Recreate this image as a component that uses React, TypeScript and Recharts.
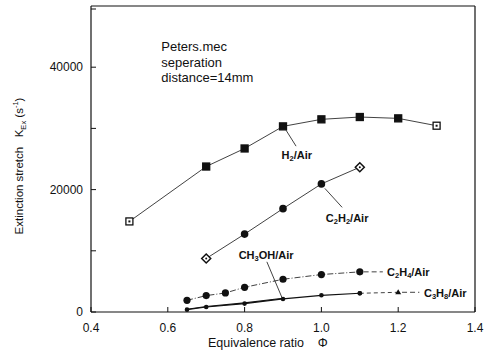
import React from "react";
import { LineChart, Line, XAxis, YAxis, ReferenceLine, ReferenceDot } from "recharts";

const xTicks = [0.4, 0.6, 0.8, 1.0, 1.2, 1.4];
const yTicks = [0, 10000, 20000, 30000, 40000, 50000];
const yLabeled = [0, 20000, 40000];

const h2Phi = [0.5, 0.7, 0.8, 0.9, 1.0, 1.1, 1.2, 1.3];
const h2K = [14800, 23770, 26720, 30330, 31480, 31860, 31640, 30440];
const c2h2Phi = [0.7, 0.8, 0.9, 1.0, 1.1];
const c2h2K = [8740, 12730, 16890, 20930, 23660];
const c2h4Phi = [0.65, 0.7, 0.75, 0.8, 0.9, 1.0, 1.1];
const c2h4K = [1910, 2680, 3110, 4040, 5350, 6120, 6560];
const c3h8Phi = [0.65, 0.7, 0.8, 0.9, 1.0, 1.1, 1.2];
const c3h8K = [380, 820, 1370, 2130, 2730, 3060, 3220];
const ch3ohPhi = [0.65, 0.7, 0.8, 0.9];
const ch3ohK = [450, 900, 1500, 2250];

const zip = (xs: number[], ys: number[]) => xs.map((x, i) => ({ x, y: ys[i] }));
const h2 = zip(h2Phi, h2K);
const c2h2 = zip(c2h2Phi, c2h2K);
const c2h4 = zip(c2h4Phi, c2h4K);
const c3h8 = zip(c3h8Phi, c3h8K);
const ch3oh = zip(ch3ohPhi, ch3ohK);

const FONT = "'Liberation Sans', Arial, Helvetica, sans-serif";
const INK = "#111";

const squareDot = (n: number) => (p: any) => {
  const { cx, cy, index } = p;
  const hollow = index === 0 || index === n - 1;
  return (
    <g key={`sq-${index}`}>
      <rect x={cx - 3.5} y={cy - 3.5} width={7} height={7} fill={hollow ? "#fff" : INK} stroke={INK} strokeWidth={1.3} />
      {hollow && <rect x={cx - 1} y={cy - 1} width={2} height={2} fill={INK} />}
    </g>
  );
};

const diamondDot = (n: number) => (p: any) => {
  const { cx, cy, index } = p;
  const hollow = index === 0 || index === n - 1;
  if (hollow) {
    return (
      <g key={`dm-${index}`}>
        <polygon points={`${cx},${cy - 4.5} ${cx + 4.5},${cy} ${cx},${cy + 4.5} ${cx - 4.5},${cy}`} fill="#fff" stroke={INK} strokeWidth={1.5} />
        <circle cx={cx} cy={cy} r={1} fill={INK} />
      </g>
    );
  }
  return <circle key={`dm-${index}`} cx={cx} cy={cy} r={3.8} fill={INK} />;
};

const circleDot = (r: number) => (p: any) => (
  <circle key={`c-${r}-${p.index}`} cx={p.cx} cy={p.cy} r={r} fill={INK} />
);

const c3h8Dot = (n: number) => (p: any) => {
  const { cx, cy, index } = p;
  if (index === n - 1) {
    return <polygon key={`t-${index}`} points={`${cx},${cy - 3} ${cx + 3},${cy + 2} ${cx - 3},${cy + 2}`} fill={INK} />;
  }
  return <circle key={`t-${index}`} cx={cx} cy={cy} r={2.3} fill={INK} />;
};

const XTick = (p: any) => {
  const { x, y, payload } = p;
  return (
    <g>
      <line x1={x} y1={y} x2={x} y2={y - 5} stroke={INK} strokeWidth={1} />
      <text x={x} y={y + 20} textAnchor="middle" fontSize={12} fontFamily={FONT} fill={INK}>
        {Number(payload.value).toFixed(1)}
      </text>
    </g>
  );
};

const YTick = (p: any) => {
  const { x, y, payload } = p;
  const show = yLabeled.includes(payload.value);
  return (
    <g>
      <line x1={x} y1={y} x2={x + 5} y2={y} stroke={INK} strokeWidth={1} />
      {show && (
        <text x={x - 8} y={y + 4} textAnchor="end" fontSize={12} fontFamily={FONT} fill={INK}>
          {payload.value}
        </text>
      )}
    </g>
  );
};

const subParts = (s: string) => {
  const arr: any[] = [];
  s.split("|").forEach((seg, i) => {
    if (i % 2 === 1) arr.push({ sub: seg });
    else if (seg) arr.push(seg);
  });
  return arr;
};

const ChemLabel = (parts: any[], anchor: string) => (p: any) => {
  const { cx, cy } = p;
  let shifted = false;
  const out: any[] = [];
  parts.forEach((pt: any, i: number) => {
    if (typeof pt === "string") {
      out.push(<tspan key={i} fontSize={11} dy={shifted ? -2.5 : 0}>{pt}</tspan>);
      shifted = false;
    } else {
      out.push(<tspan key={i} fontSize={7.5} dy={shifted ? 0 : 2.5}>{pt.sub}</tspan>);
      shifted = true;
    }
  });
  return (
    <text x={cx} y={cy + 4} textAnchor={anchor} fontSize={11} fontFamily={FONT} fill={INK} fontWeight={600}>
      {out}
    </text>
  );
};

const YLabel = (p: any) => {
  const vb = p.viewBox || { x: 0, y: 6, width: 91, height: 306 };
  const cx = vb.x + 23;
  const cy = vb.y + vb.height / 2 + 7;
  return (
    <text transform={`rotate(-90 ${cx} ${cy})`} x={cx} y={cy} textAnchor="middle" fontSize={11.5} fontFamily={FONT} fill={INK} style={{ whiteSpace: "pre" }}>
      <tspan>{"Extinction stretch   K"}</tspan>
      <tspan fontSize={7.5} dy={3}>Ex</tspan>
      <tspan dy={-3}>{" (s"}</tspan>
      <tspan fontSize={7.5} dy={-5}>-1</tspan>
      <tspan dy={5}>)</tspan>
    </text>
  );
};

const XLabel = (p: any) => {
  const vb = p.viewBox || { x: 91, y: 312, width: 384, height: 50 };
  return (
    <text x={vb.x + 117} y={vb.y + 35} textAnchor="start" fontSize={12.5} fontFamily={FONT} fill={INK} style={{ whiteSpace: "pre" }}>
      {"Equivalence ratio    \u03A6"}
    </text>
  );
};

const noteShape = (p: any) => (
  <text x={p.cx} y={p.cy} fontSize={13} fontFamily={FONT} fill={INK}>
    <tspan x={p.cx} dy={0}>Peters.mec</tspan>
    <tspan x={p.cx} dy={15.5}>seperation</tspan>
    <tspan x={p.cx} dy={15.5}>distance=14mm</tspan>
  </text>
);

export default function App() {
  return (
    <div style={{ position: "absolute", left: 0, top: 0, width: 485, height: 362, background: "#fff" }}>
      <LineChart width={485} height={362} margin={{ top: 6, right: 10, bottom: 0, left: 0 }}>
        <XAxis
          type="number"
          dataKey="x"
          domain={[0.4, 1.4]}
          ticks={xTicks}
          allowDataOverflow
          height={50}
          tickSize={0}
          tickMargin={0}
          tick={<XTick />}
          axisLine={{ stroke: INK, strokeWidth: 1.2 }}
          tickLine={false}
          label={<XLabel />}
        />
        <YAxis
          type="number"
          dataKey="y"
          domain={[0, 50000]}
          ticks={yTicks}
          allowDataOverflow
          width={91}
          tickSize={0}
          tickMargin={0}
          tick={<YTick />}
          axisLine={{ stroke: INK, strokeWidth: 1.2 }}
          tickLine={false}
          label={<YLabel />}
        />
        <ReferenceLine y={50000} stroke={INK} strokeWidth={1.2} />
        <ReferenceLine x={1.4} stroke={INK} strokeWidth={1.2} />

        <ReferenceLine segment={[{ x: 0.908, y: 29700 }, { x: 0.934, y: 27100 }]} stroke={INK} strokeWidth={0.8} />
        <ReferenceLine segment={[{ x: 1.009, y: 20200 }, { x: 1.054, y: 17100 }]} stroke={INK} strokeWidth={0.8} />
        <ReferenceLine segment={[{ x: 0.858, y: 8200 }, { x: 0.897, y: 2400 }]} stroke={INK} strokeWidth={0.8} />
        <ReferenceLine segment={[{ x: 1.11, y: 6560 }, { x: 1.16, y: 6560 }]} stroke={INK} strokeWidth={0.8} strokeDasharray="5 3" />
        <ReferenceLine segment={[{ x: 1.21, y: 3220 }, { x: 1.255, y: 3220 }]} stroke={INK} strokeWidth={0.8} strokeDasharray="5 3" />

        <Line data={h2} dataKey="y" stroke={INK} strokeWidth={0.8} dot={squareDot(h2.length)} isAnimationActive={false} />
        <Line data={c2h2} dataKey="y" stroke={INK} strokeWidth={0.8} dot={diamondDot(c2h2.length)} isAnimationActive={false} />
        <Line data={c2h4} dataKey="y" stroke={INK} strokeWidth={0.8} strokeDasharray="6 2 1 2" dot={circleDot(3.6)} isAnimationActive={false} />
        <Line data={ch3oh} dataKey="y" stroke={INK} strokeWidth={1.2} dot={false} isAnimationActive={false} />
        <Line data={c3h8.slice(0, 6)} dataKey="y" stroke={INK} strokeWidth={1.2} dot={c3h8Dot(99)} isAnimationActive={false} />
        <Line data={c3h8.slice(5)} dataKey="y" stroke={INK} strokeWidth={0.8} strokeDasharray="4 3" dot={c3h8Dot(2)} isAnimationActive={false} />

        <ReferenceDot x={0.936} y={25700} r={0} shape={ChemLabel(subParts("H|2|/Air"), "middle")} />
        <ReferenceDot x={1.067} y={15400} r={0} shape={ChemLabel(subParts("C|2|H|2|/Air"), "middle")} />
        <ReferenceDot x={0.856} y={9340} r={0} shape={ChemLabel(subParts("CH|3|OH/Air"), "middle")} />
        <ReferenceDot x={1.171} y={6560} r={0} shape={ChemLabel(subParts("C|2|H|4|/Air"), "start")} />
        <ReferenceDot x={1.267} y={3150} r={0} shape={ChemLabel(subParts("C|3|H|8|/Air"), "start")} />
        <ReferenceDot x={0.583} y={42600} r={0} shape={noteShape} />
      </LineChart>
    </div>
  );
}
